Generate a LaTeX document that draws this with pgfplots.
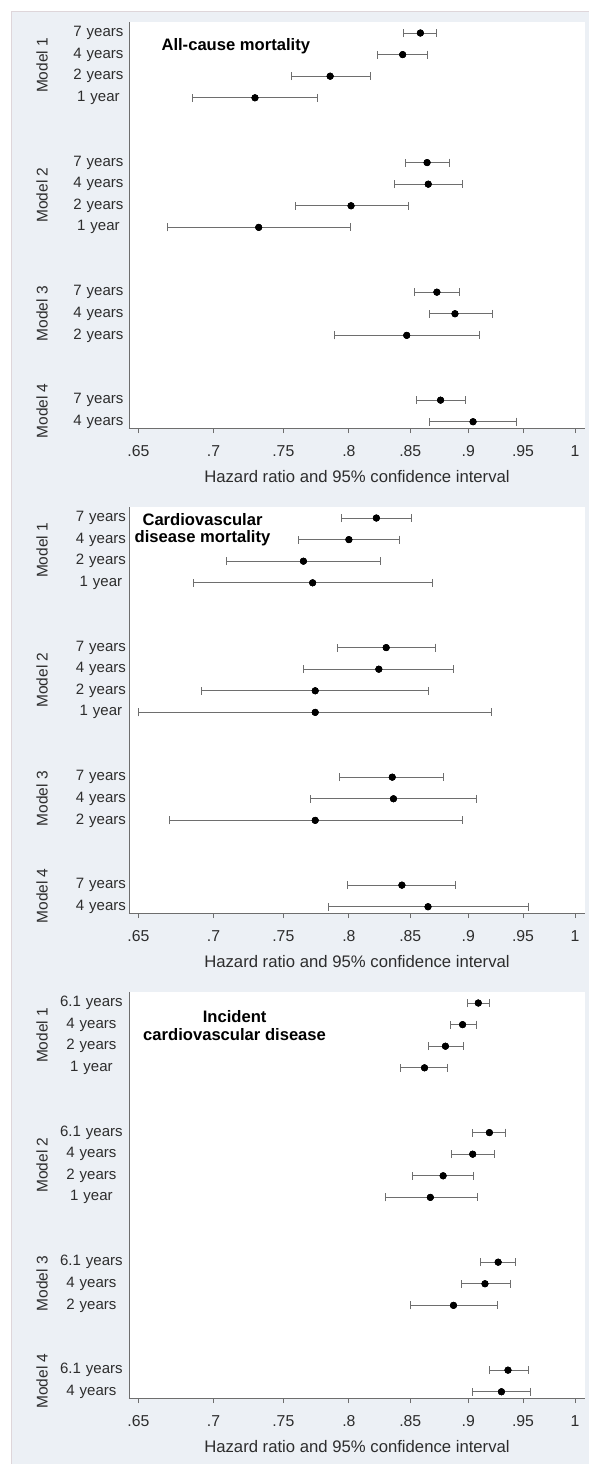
\documentclass[border=0pt]{standalone}
\usepackage{pgfplots}
\pgfplotsset{compat=1.18}
\usepackage{pgfplotstable}
\usepackage{fontspec}
\setmainfont{Liberation Sans}
\definecolor{bgc}{RGB}{236,240,245}
\definecolor{axc}{RGB}{110,110,110}
\definecolor{txt}{RGB}{45,45,45}
\definecolor{edgec}{RGB}{222,214,218}

% row hr lo hi
\pgfplotstableread{
row hr lo hi
0 0.8585 0.8439 0.8726
1 0.8436 0.8232 0.8645
2 0.7855 0.7561 0.8171
3 0.7293 0.6857 0.7757
6 0.8642 0.8461 0.8834
7 0.8652 0.8364 0.8952
8 0.8017 0.7589 0.8483
9 0.7320 0.6686 0.8015
12 0.8726 0.8533 0.8926
13 0.8883 0.8658 0.9215
14 0.8470 0.7887 0.9100
17 0.8758 0.8553 0.8972
18 0.9043 0.8658 0.9437
}\tabA
\pgfplotstableread{
row hr lo hi
0 0.822 0.794 0.851
1 0.800 0.761 0.841
2 0.765 0.709 0.825
3 0.772 0.686 0.869
6 0.830 0.791 0.871
7 0.824 0.765 0.887
8 0.774 0.692 0.865
9 0.774 0.650 0.921
12 0.835 0.793 0.878
13 0.836 0.770 0.907
14 0.774 0.670 0.895
17 0.843 0.799 0.889
18 0.865 0.784 0.955
}\tabB
\pgfplotstableread{
row hr lo hi
0 0.909 0.899 0.919
1 0.895 0.884 0.907
2 0.880 0.865 0.896
3 0.862 0.842 0.882
6 0.919 0.904 0.934
7 0.904 0.885 0.924
8 0.878 0.852 0.905
9 0.867 0.829 0.908
12 0.927 0.911 0.943
13 0.915 0.894 0.938
14 0.887 0.850 0.926
17 0.936 0.919 0.955
18 0.930 0.904 0.957
}\tabC

\pgfplotsset{
  every axis/.append style={
    scale only axis, width=456pt, height=406pt,
    xmin=0.644, xmax=1.0099, ymin=-18.29, ymax=0.51,
    axis x line*=bottom, axis y line*=left,
    axis line style={axc, line width=0.9pt},
    axis background/.style={fill=white},
    xtick={0.65,0.7,0.75,0.8,0.85,0.9,0.95,1},
    xticklabels={.65,.7,.75,.8,.85,.9,.95,1},
    tick align=outside, major tick length=5pt,
    xtick style={axc, line width=0.9pt},
    ytick style={draw=none},
    ytick={0,-1,-2,-3,-6,-7,-8,-9,-12,-13,-14,-17,-18},
    xticklabel style={font=\fontsize{15.8}{18}\selectfont, text=txt, anchor=north, inner sep=0pt, yshift=-12pt},
    yticklabel style={font=\fontsize{15}{17}\selectfont, text=txt, anchor=east, align=center, inner sep=0pt},
    xlabel style={font=\fontsize{16.7}{19}\selectfont, text=txt, at={(axis description cs:0.5,0)}, anchor=center, yshift=-49pt},
    clip=false,
  },
}
\tikzset{mlab/.style={rotate=90, font=\fontsize{15.5}{17}\selectfont, text=txt}}

\begin{document}
\begin{tikzpicture}
\useasboundingbox (0,0) rectangle (589pt,-1464pt);
\fill[white] (0,0) rectangle (589pt,-1464pt);
\fill[bgc] (11pt,-11pt) rectangle (589pt,-1464pt);
\draw[edgec, line width=1pt] (11.5pt,-1464pt) |- (589pt,-11.5pt);

% Panel 1
\begin{semilogxaxis}[at={(129pt,-22pt)}, anchor=north west,
  xlabel={Hazard ratio and 95\% confidence interval},
  yticklabels={7 years,4 years,2 years,1 year,7 years,4 years,2 years,1 year,7 years,4 years,2 years,7 years,4 years},
  yticklabel style={text width=52pt, xshift=0.5pt}]
\addplot[only marks, mark=*, mark size=3.3pt, black,
  error bars/.cd, x dir=both, x explicit, error mark=|,
  error bar style={axc, line width=0.9pt},
  error mark options={axc, line width=0.9pt, mark size=4pt}]
  table[x=hr, y expr=-\thisrow{row}, x error plus expr=\thisrow{hi}-\thisrow{hr}, x error minus expr=\thisrow{hr}-\thisrow{lo}] {\tabA};
\addplot[only marks, mark=*, mark size=3.3pt, black] table[x=hr, y expr=-\thisrow{row}] {\tabA};
\node[mlab] at ([xshift=-87pt]axis cs:0.644,-1.5) {Model 1};
\node[mlab] at ([xshift=-87pt]axis cs:0.644,-7.5) {Model 2};
\node[mlab] at ([xshift=-87pt]axis cs:0.644,-13) {Model 3};
\node[mlab] at ([xshift=-87pt]axis cs:0.644,-17.5) {Model 4};
\node[anchor=west, font=\bfseries\fontsize{16.6}{18}\selectfont] at ([xshift=29pt]axis cs:0.644,-0.6) {All-cause mortality};
\end{semilogxaxis}

% Panel 2
\begin{semilogxaxis}[at={(129pt,-507pt)}, anchor=north west,
  xlabel={Hazard ratio and 95\% confidence interval},
  yticklabels={7 years,4 years,2 years,1 year,7 years,4 years,2 years,1 year,7 years,4 years,2 years,7 years,4 years},
  yticklabel style={text width=52pt, xshift=3pt}]
\addplot[only marks, mark=*, mark size=3.3pt, black,
  error bars/.cd, x dir=both, x explicit, error mark=|,
  error bar style={axc, line width=0.9pt},
  error mark options={axc, line width=0.9pt, mark size=4pt}]
  table[x=hr, y expr=-\thisrow{row}, x error plus expr=\thisrow{hi}-\thisrow{hr}, x error minus expr=\thisrow{hr}-\thisrow{lo}] {\tabB};
\addplot[only marks, mark=*, mark size=3.3pt, black] table[x=hr, y expr=-\thisrow{row}] {\tabB};
\node[mlab] at ([xshift=-87pt]axis cs:0.644,-1.5) {Model 1};
\node[mlab] at ([xshift=-87pt]axis cs:0.644,-7.5) {Model 2};
\node[mlab] at ([xshift=-87pt]axis cs:0.644,-13) {Model 3};
\node[mlab] at ([xshift=-87pt]axis cs:0.644,-17.5) {Model 4};
\node[align=center, font=\bfseries\fontsize{16.6}{17}\selectfont] at ([xshift=73.5pt]axis cs:0.644,-0.55) {Cardiovascular\\disease mortality};
\end{semilogxaxis}

% Panel 3
\begin{semilogxaxis}[at={(129pt,-992pt)}, anchor=north west,
  xlabel={Hazard ratio and 95\% confidence interval},
  yticklabels={6.1 years,4 years,2 years,1 year,6.1 years,4 years,2 years,1 year,6.1 years,4 years,2 years,6.1 years,4 years},
  yticklabel style={text width=64pt, xshift=-0.5pt}]
\addplot[only marks, mark=*, mark size=3.3pt, black,
  error bars/.cd, x dir=both, x explicit, error mark=|,
  error bar style={axc, line width=0.9pt},
  error mark options={axc, line width=0.9pt, mark size=4pt}]
  table[x=hr, y expr=-\thisrow{row}, x error plus expr=\thisrow{hi}-\thisrow{hr}, x error minus expr=\thisrow{hr}-\thisrow{lo}] {\tabC};
\addplot[only marks, mark=*, mark size=3.3pt, black] table[x=hr, y expr=-\thisrow{row}] {\tabC};
\node[mlab] at ([xshift=-87pt]axis cs:0.644,-1.5) {Model 1};
\node[mlab] at ([xshift=-87pt]axis cs:0.644,-7.5) {Model 2};
\node[mlab] at ([xshift=-87pt]axis cs:0.644,-13) {Model 3};
\node[mlab] at ([xshift=-87pt]axis cs:0.644,-17.5) {Model 4};
\node[align=center, font=\bfseries\fontsize{16.6}{18}\selectfont] at ([xshift=105.6pt]axis cs:0.644,-1.05) {Incident\\cardiovascular disease};
\end{semilogxaxis}
\end{tikzpicture}
\end{document}
